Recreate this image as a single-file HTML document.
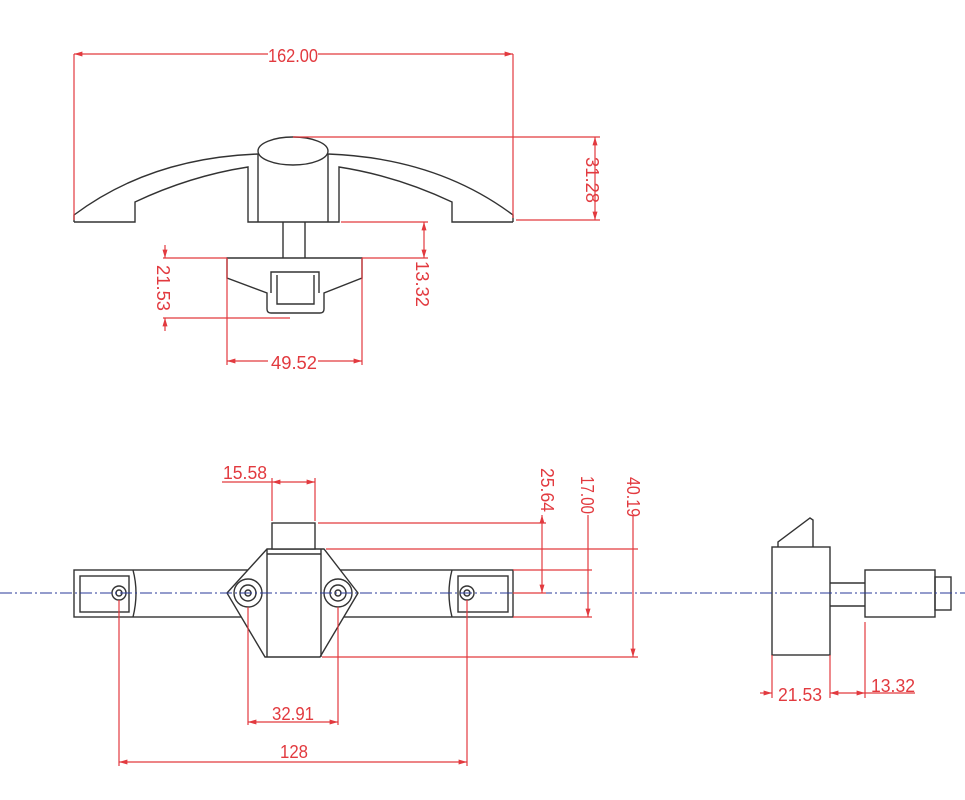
<!DOCTYPE html>
<html><head><meta charset="utf-8"><style>html,body{margin:0;padding:0;background:#fff}svg{display:block}</style></head>
<body>
<svg width="965" height="800" viewBox="0 0 965 800" xmlns="http://www.w3.org/2000/svg">
<defs>
<marker id="a" viewBox="0 0 10 10" refX="10" refY="5" markerWidth="7" markerHeight="7" orient="auto-start-reverse"><path d="M0,2 L10,5 L0,8 z" fill="#e23a3f"/></marker>
</defs>
<g fill="none" stroke="#333" stroke-width="1.4">
<!-- TOP VIEW -->
<path d="M74,222 L74,215 Q150,158 258,154"/>
<path d="M513,222 L513,215 Q437,158 328,154"/>
<path d="M74,222 L135,222 L135,202 Q190,176 248,167 L248,222 L339,222 L339,167 Q397,176 452,202 L452,222 L513,222"/>
<path d="M258,154 L258,222 M328,154 L328,222"/>
<ellipse cx="293" cy="151" rx="35" ry="14"/>
<path d="M283,222 L283,258 M305,222 L305,258"/>
<path d="M227,258 L362,258 L362,278 L324,293 L324,309 Q324,313 320,313 L271,313 Q267,313 267,309 L267,293 L227,278 Z"/>
<path d="M271,293 L271,272 L319,272 L319,293"/>
<path d="M277,275 L277,304 L314,304 L314,275"/>
<!-- FRONT VIEW -->
<rect x="74" y="570" width="439" height="47"/>
<path d="M133,570 Q139,593 133,617 M452,570 Q446,593 452,617"/>
<rect x="80" y="576" width="49" height="36"/>
<rect x="458" y="576" width="50" height="36"/>
<circle cx="119" cy="593" r="7"/><circle cx="119" cy="593" r="3"/>
<circle cx="467" cy="593" r="7"/><circle cx="467" cy="593" r="3"/>
<path d="M267,549 L324,549 L358,593 L320,657 L265,657 L227,593 Z" fill="#fff"/>
<path d="M267,549 L267,657 M321,549 L321,657 M267,554 L321,554"/>
<rect x="272" y="523" width="43" height="26" fill="#fff"/>
<circle cx="248" cy="593" r="14"/><circle cx="248" cy="593" r="8"/><circle cx="248" cy="593" r="3"/>
<circle cx="338" cy="593" r="14"/><circle cx="338" cy="593" r="8"/><circle cx="338" cy="593" r="3"/>
<!-- SIDE VIEW -->
<rect x="772" y="547" width="58" height="108"/>
<path d="M778,547 L778,542 L810,518 L813,520 L813,547"/>
<path d="M830,583 L865,583 M830,606 L865,606"/>
<rect x="865" y="570" width="70" height="47"/>
<rect x="935" y="577" width="16" height="33"/>
</g>
<!-- centerline -->
<line x1="0" y1="593" x2="965" y2="593" stroke="#2a3a9a" stroke-width="1" stroke-dasharray="12,3,2,3"/>
<!-- DIMENSIONS -->
<g stroke="#e23a3f" stroke-width="1.2" fill="none">
<line x1="74" y1="54" x2="74" y2="220"/><line x1="513" y1="54" x2="513" y2="218"/>
<line x1="74" y1="54" x2="513" y2="54" marker-start="url(#a)" marker-end="url(#a)"/>
<line x1="293" y1="137" x2="600" y2="137"/><line x1="516" y1="220" x2="600" y2="220"/>
<line x1="595" y1="137" x2="595" y2="220" marker-start="url(#a)" marker-end="url(#a)"/>
<line x1="163" y1="258" x2="227" y2="258"/><line x1="163" y1="318" x2="290" y2="318"/>
<line x1="165" y1="245" x2="165" y2="258" marker-end="url(#a)"/><line x1="165" y1="331" x2="165" y2="318" marker-end="url(#a)"/>
<line x1="341" y1="222" x2="428" y2="222"/><line x1="362" y1="258" x2="428" y2="258"/>
<line x1="424" y1="222" x2="424" y2="258" marker-start="url(#a)" marker-end="url(#a)"/>
<line x1="227" y1="258" x2="227" y2="365"/><line x1="362" y1="258" x2="362" y2="365"/>
<line x1="227" y1="361" x2="362" y2="361" marker-start="url(#a)" marker-end="url(#a)"/>
<!-- front dims -->
<line x1="272" y1="478" x2="272" y2="521"/><line x1="315" y1="478" x2="315" y2="521"/>
<line x1="272" y1="482" x2="315" y2="482" marker-start="url(#a)" marker-end="url(#a)"/>
<line x1="222" y1="482" x2="272" y2="482"/>
<line x1="318" y1="523" x2="546" y2="523"/><line x1="513" y1="593" x2="546" y2="593"/>
<line x1="542" y1="515" x2="542" y2="593" marker-start="url(#a)" marker-end="url(#a)"/>
<line x1="513" y1="570" x2="592" y2="570"/><line x1="513" y1="617" x2="592" y2="617"/>
<line x1="588" y1="515" x2="588" y2="617" marker-end="url(#a)"/>
<line x1="326" y1="549" x2="638" y2="549"/><line x1="322" y1="657" x2="638" y2="657"/>
<line x1="633" y1="515" x2="633" y2="657" marker-end="url(#a)"/>
<line x1="248" y1="607" x2="248" y2="725"/><line x1="338" y1="607" x2="338" y2="725"/>
<line x1="248" y1="722" x2="338" y2="722" marker-start="url(#a)" marker-end="url(#a)"/>
<line x1="119" y1="600" x2="119" y2="766"/><line x1="467" y1="600" x2="467" y2="766"/>
<line x1="119" y1="762" x2="467" y2="762" marker-start="url(#a)" marker-end="url(#a)"/>
<!-- side dims -->
<line x1="772" y1="655" x2="772" y2="698"/><line x1="830" y1="655" x2="830" y2="698"/><line x1="865" y1="622" x2="865" y2="698"/>
<line x1="760" y1="693" x2="772" y2="693" marker-end="url(#a)"/>
<line x1="830" y1="693" x2="865" y2="693" marker-start="url(#a)" marker-end="url(#a)"/>
<line x1="865" y1="693" x2="915" y2="693"/>
</g>
<g fill="#e23a3f" font-family="Liberation Sans, sans-serif" font-size="18" text-anchor="middle" lengthAdjust="spacingAndGlyphs">
<rect x="268" y="45" width="50" height="18" fill="#fff"/>
<text x="293" y="62" textLength="50" lengthAdjust="spacingAndGlyphs">162.00</text>
<rect x="268" y="352" width="50" height="18" fill="#fff"/>
<text x="294" y="369" textLength="46" lengthAdjust="spacingAndGlyphs">49.52</text>
<text transform="translate(586,180) rotate(90)" textLength="46" lengthAdjust="spacingAndGlyphs">31.28</text>
<text transform="translate(157,288) rotate(90)" textLength="46" lengthAdjust="spacingAndGlyphs">21.53</text>
<text transform="translate(416,284) rotate(90)" textLength="46" lengthAdjust="spacingAndGlyphs">13.32</text>
<text x="245" y="479" textLength="44" lengthAdjust="spacingAndGlyphs">15.58</text>
<text transform="translate(541,490) rotate(90)" textLength="44" lengthAdjust="spacingAndGlyphs">25.64</text>
<text transform="translate(581,495) rotate(90)" textLength="38" lengthAdjust="spacingAndGlyphs">17.00</text>
<text transform="translate(627,497) rotate(90)" textLength="40" lengthAdjust="spacingAndGlyphs">40.19</text>
<text x="293" y="720" textLength="42" lengthAdjust="spacingAndGlyphs">32.91</text>
<text x="294" y="758" textLength="28" lengthAdjust="spacingAndGlyphs">128</text>
<text x="800" y="701" textLength="44" lengthAdjust="spacingAndGlyphs">21.53</text>
<text x="893" y="692" textLength="44" lengthAdjust="spacingAndGlyphs">13.32</text>
</g>
</svg>
</body></html>
